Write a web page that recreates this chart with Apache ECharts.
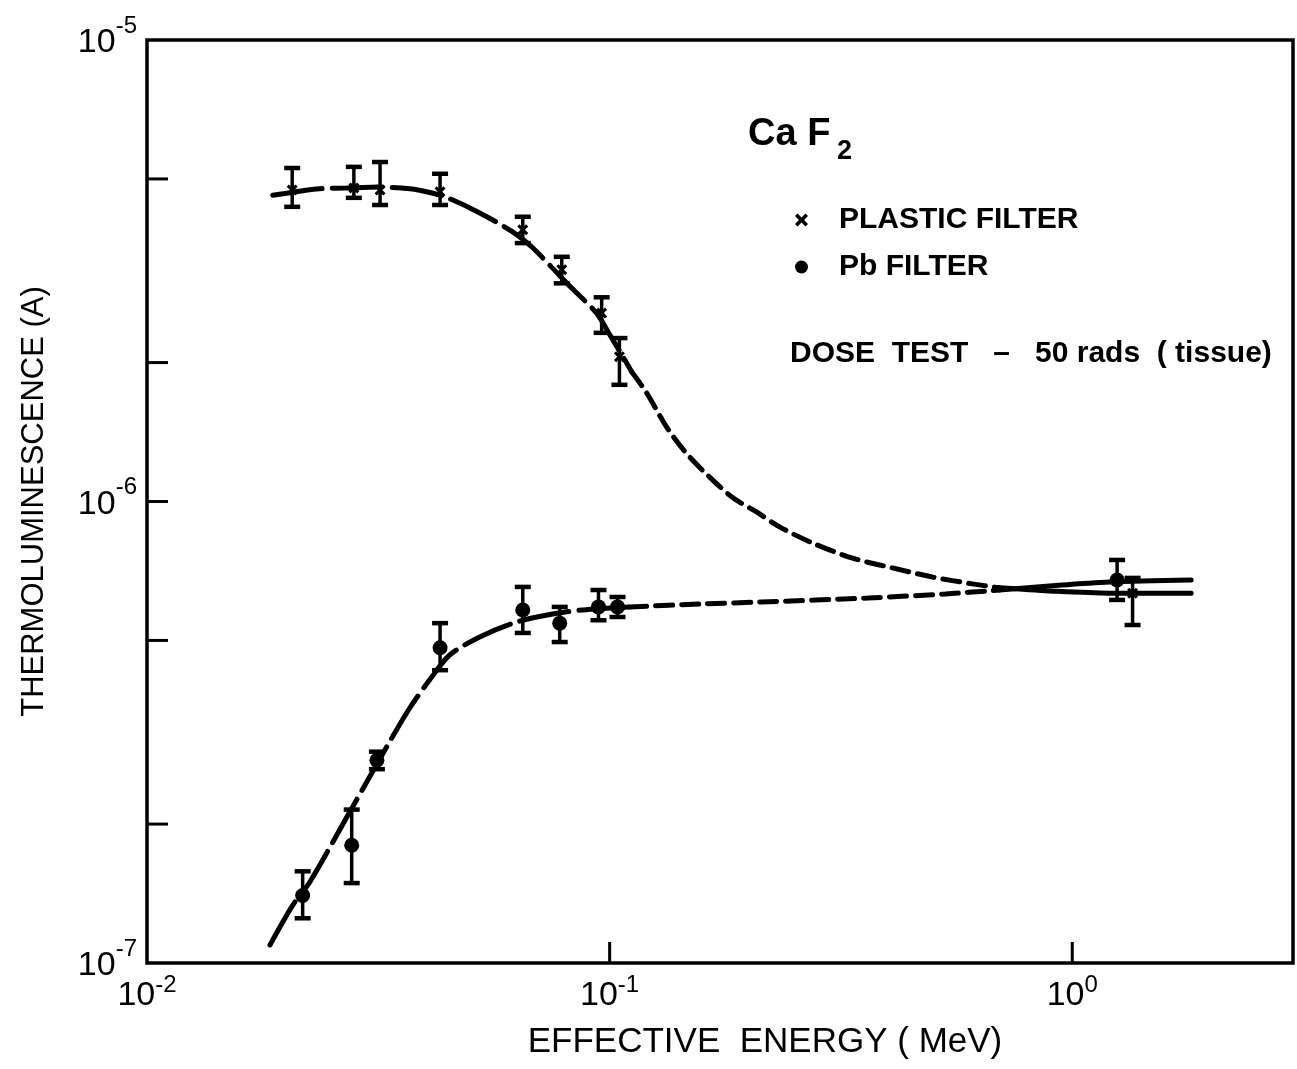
<!DOCTYPE html>
<html>
<head>
<meta charset="utf-8">
<script src="https://cdn.jsdelivr.net/npm/echarts@6/dist/echarts.min.js"></script>
<style>html,body{margin:0;padding:0;background:#fff}#chart{width:1297px;height:1069px}</style>
</head>
<body>
<div id="chart"></div>
<script>
// ---------- data ----------
// axis extents
const X_MIN = 0.01, X_MAX = 3, Y_MIN = 1e-7, Y_MAX = 1e-5;
// labelled decades (exponents) and minor tick values
const xTickExponents = [-2, -1, 0];
const yTickExponents = [-7, -6, -5];
const xTickValues = [0.1, 1];
const yTickValues = [5e-6, 2e-6, 1e-6, 5e-7, 2e-7];

// measured points: [energy MeV, TL (A), lower error, upper error]
const plasticPoints = [
  [0.0206, 4.73e-6, 4.35e-6, 5.28e-6],
  [0.0280, 4.78e-6, 4.55e-6, 5.31e-6],
  [0.0319, 4.73e-6, 4.39e-6, 5.44e-6],
  [0.0430, 4.69e-6, 4.39e-6, 5.13e-6],
  [0.0649, 3.88e-6, 3.63e-6, 4.14e-6],
  [0.0788, 3.18e-6, 2.97e-6, 3.39e-6],
  [0.0961, 2.56e-6, 2.32e-6, 2.77e-6],
  [0.105, 2.06e-6, 1.79e-6, 2.26e-6],
  [1.35, 6.33e-7, 5.40e-7, 6.83e-7]
];
const pbPoints = [
  [0.0217, 1.40e-7, 1.25e-7, 1.58e-7],
  [0.0277, 1.80e-7, 1.49e-7, 2.15e-7],
  [0.0314, 2.75e-7, 2.63e-7, 2.87e-7],
  [0.0430, 4.82e-7, 4.31e-7, 5.45e-7],
  [0.0649, 5.82e-7, 5.19e-7, 6.53e-7],
  [0.0780, 5.45e-7, 4.96e-7, 5.91e-7],
  [0.0946, 5.91e-7, 5.53e-7, 6.43e-7],
  [0.104, 5.91e-7, 5.62e-7, 6.21e-7],
  [1.25, 6.76e-7, 6.12e-7, 7.47e-7]
];

// hand-drawn curves: [energy, TL]
const plasticCurveMeasured = [
  [0.0187, 4.61e-6], [0.0207, 4.68e-6], [0.0236, 4.76e-6], [0.0270, 4.78e-6],
  [0.0319, 4.80e-6], [0.0370, 4.76e-6], [0.0413, 4.66e-6], [0.0447, 4.55e-6],
  [0.0524, 4.22e-6], [0.0617, 3.84e-6], [0.0679, 3.56e-6], [0.0749, 3.22e-6],
  [0.0828, 2.90e-6], [0.0937, 2.56e-6], [0.100, 2.30e-6], [0.1062, 2.08e-6],
  [0.1116, 1.91e-6]
];
const plasticCurveExtrapolated = [
  [0.1116, 1.91e-6], [0.1202, 1.72e-6], [0.1328, 1.45e-6], [0.1467, 1.27e-6],
  [0.1644, 1.13e-6], [0.1844, 1.02e-6], [0.2077, 9.49e-7], [0.2330, 8.81e-7],
  [0.2745, 8.13e-7], [0.3349, 7.54e-7], [0.4086, 7.18e-7], [0.4985, 6.86e-7],
  [0.6081, 6.63e-7], [0.6958, 6.50e-7]
];
const plasticCurveHigh = [
  [0.6958, 6.50e-7], [0.8919, 6.40e-7], [1.202, 6.33e-7], [1.807, 6.33e-7]
];
const pbCurveMeasured = [
  [0.01844, 1.094e-7], [0.02066, 1.335e-7], [0.02249, 1.498e-7], [0.02704, 2.072e-7],
  [0.03062, 2.581e-7], [0.03315, 2.968e-7], [0.03698, 3.569e-7], [0.04126, 4.166e-7],
  [0.04512, 4.650e-7], [0.05238, 5.087e-7], [0.06296, 5.481e-7], [0.07532, 5.704e-7],
  [0.08743, 5.820e-7], [0.1105, 5.908e-7]
];
const pbCurveExtrapolated = [
  [0.1105, 5.908e-7], [0.1564, 5.997e-7], [0.2130, 6.057e-7], [0.3626, 6.180e-7],
  [0.5317, 6.305e-7], [0.6958, 6.43e-7]
];
const pbCurveHigh = [
  [0.6958, 6.43e-7], [0.8919, 6.56e-7], [1.202, 6.69e-7], [1.807, 6.76e-7]
];

// ---------- chart ----------
const FONT = 'Liberation Sans';
const X_PATH = 'path://M0,2L2,0L5,3L8,0L10,2L7,5L10,8L8,10L5,7L2,10L0,8L3,5Z';

function decadeLabel(exps) {
  return function (v) {
    const l = Math.log10(v);
    const e = Math.round(l);
    if (Math.abs(l - e) > 1e-6 || exps.indexOf(e) < 0) return '';
    return '{b|10}{s|' + e + '}';
  };
}
const labelRich = {
  b: { fontFamily: FONT, fontSize: 34, lineHeight: 40, verticalAlign: 'bottom', color: '#000' },
  s: { fontFamily: FONT, fontSize: 24, lineHeight: 20, verticalAlign: 'top', color: '#000' }
};
const yLabelRich = {
  b: { fontFamily: FONT, fontSize: 34, lineHeight: 46, verticalAlign: 'bottom', color: '#000' },
  s: { fontFamily: FONT, fontSize: 24, lineHeight: 20, verticalAlign: 'top', color: '#000' }
};

const curveBase = { type: 'line', showSymbol: false, silent: true, smooth: 0.3, z: 3 };
function curve(name, data, dash) {
  return Object.assign({}, curveBase, {
    name: name, data: data,
    lineStyle: { color: '#000', width: 5, type: dash, cap: 'round', opacity: 1 }
  });
}

function errorBars(name, pts) {
  return {
    type: 'custom', name: name, silent: true, z: 4,
    data: pts.map(p => [p[0], p[2], p[3]]),
    encode: { x: 0, y: [1, 2] },
    renderItem: function (params, api) {
      const x = api.value(0);
      const t = api.coord([x, api.value(2)]);
      const b = api.coord([x, api.value(1)]);
      const st = { stroke: '#000', lineWidth: 3.5 };
      const cap = { stroke: '#000', lineWidth: 4.5 };
      return {
        type: 'group', children: [
          { type: 'line', shape: { x1: t[0], y1: t[1], x2: b[0], y2: b[1] }, style: st },
          { type: 'line', shape: { x1: t[0] - 8, y1: t[1], x2: t[0] + 8, y2: t[1] }, style: cap },
          { type: 'line', shape: { x1: b[0] - 8, y1: b[1], x2: b[0] + 8, y2: b[1] }, style: cap }
        ]
      };
    }
  };
}

const tickSeriesY = {
  type: 'custom', silent: true, z: 5,
  data: yTickValues.map(v => [X_MIN, v]),
  renderItem: function (params, api) {
    const p = api.coord([api.value(0), api.value(1)]);
    return { type: 'line', shape: { x1: p[0], y1: p[1], x2: p[0] + 21, y2: p[1] },
      style: { stroke: '#000', lineWidth: 3 } };
  }
};
const tickSeriesX = {
  type: 'custom', silent: true, z: 5,
  data: xTickValues.map(v => [v, Y_MIN]),
  renderItem: function (params, api) {
    const p = api.coord([api.value(0), api.value(1)]);
    return { type: 'line', shape: { x1: p[0], y1: p[1], x2: p[0], y2: p[1] - 21 },
      style: { stroke: '#000', lineWidth: 3 } };
  }
};

const chart = echarts.init(document.getElementById('chart'), null, { renderer: 'canvas' });
chart.setOption({
  backgroundColor: '#fff',
  animation: false,
  textStyle: { fontFamily: FONT, color: '#000' },
  grid: { left: 147, right: 4, top: 40, bottom: 106, show: true, borderColor: '#000', borderWidth: 3.5, backgroundColor: 'transparent' },
  xAxis: {
    type: 'log', logBase: 10, min: X_MIN, max: X_MAX,
    axisLine: { show: false }, axisTick: { show: false }, splitLine: { show: false },
    axisLabel: { margin: 10, showMinLabel: true, showMaxLabel: false, formatter: decadeLabel(xTickExponents), rich: labelRich },
    name: 'EFFECTIVE  ENERGY ( MeV)', nameLocation: 'middle', nameGap: 62,
    nameTextStyle: { fontFamily: FONT, fontSize: 35, color: '#000', padding: [0, 0, 0, 90] }
  },
  yAxis: {
    type: 'log', logBase: 10, min: Y_MIN, max: Y_MAX,
    axisLine: { show: false }, axisTick: { show: false }, splitLine: { show: false },
    axisLabel: { margin: 10, showMinLabel: true, showMaxLabel: true, padding: [0, 0, 6, 0], formatter: decadeLabel(yTickExponents), rich: yLabelRich },
    name: 'THERMOLUMINESCENCE (A)', nameLocation: 'middle', nameGap: 97, nameRotate: 90,
    nameTextStyle: { fontFamily: FONT, fontSize: 31, color: '#000' }
  },
  legend: {
    orient: 'vertical', left: 790, top: 200, itemGap: 17, itemWidth: 13, itemHeight: 13,
    selectedMode: false,
    textStyle: { fontFamily: FONT, fontSize: 30, fontWeight: 'bold', color: '#000', lineHeight: 30, padding: [0, 0, 0, 26] },
    data: [
      { name: 'PLASTIC FILTER', icon: X_PATH },
      { name: 'Pb FILTER', icon: 'circle' }
    ]
  },
  graphic: [
    { type: 'text', left: 748, top: 116, silent: true,
      style: { text: 'Ca F', font: 'bold 38px "Liberation Sans"', fill: '#000' } },
    { type: 'text', left: 837, top: 138, silent: true,
      style: { text: '2', font: 'bold 27px "Liberation Sans"', fill: '#000' } },
    { type: 'text', left: 790, top: 339, silent: true,
      style: { text: 'DOSE  TEST   \u2013   50 rads  ( tissue)', font: 'bold 30px "Liberation Sans"', fill: '#000' } }
  ],
  series: [
    { type: 'scatter', name: 'PLASTIC FILTER', data: plasticPoints.map(p => [p[0], p[1]]),
      symbol: X_PATH, symbolSize: 11, itemStyle: { color: '#000', opacity: 1 }, z: 6, silent: true },
    { type: 'scatter', name: 'Pb FILTER', data: pbPoints.map(p => [p[0], p[1]]),
      symbol: 'circle', symbolSize: 15, itemStyle: { color: '#000', opacity: 1 }, z: 6, silent: true },
    errorBars('plastic-err', plasticPoints),
    errorBars('pb-err', pbPoints),
    curve('plastic-fit', plasticCurveMeasured, [50, 10]),
    curve('plastic-extrap', plasticCurveExtrapolated, [17, 9]),
    curve('plastic-high', plasticCurveHigh, 'solid'),
    curve('pb-fit', pbCurveMeasured, [50, 10]),
    curve('pb-extrap', pbCurveExtrapolated, [17, 9]),
    curve('pb-high', pbCurveHigh, 'solid'),
    tickSeriesY,
    tickSeriesX
  ]
});
</script>
</body>
</html>
